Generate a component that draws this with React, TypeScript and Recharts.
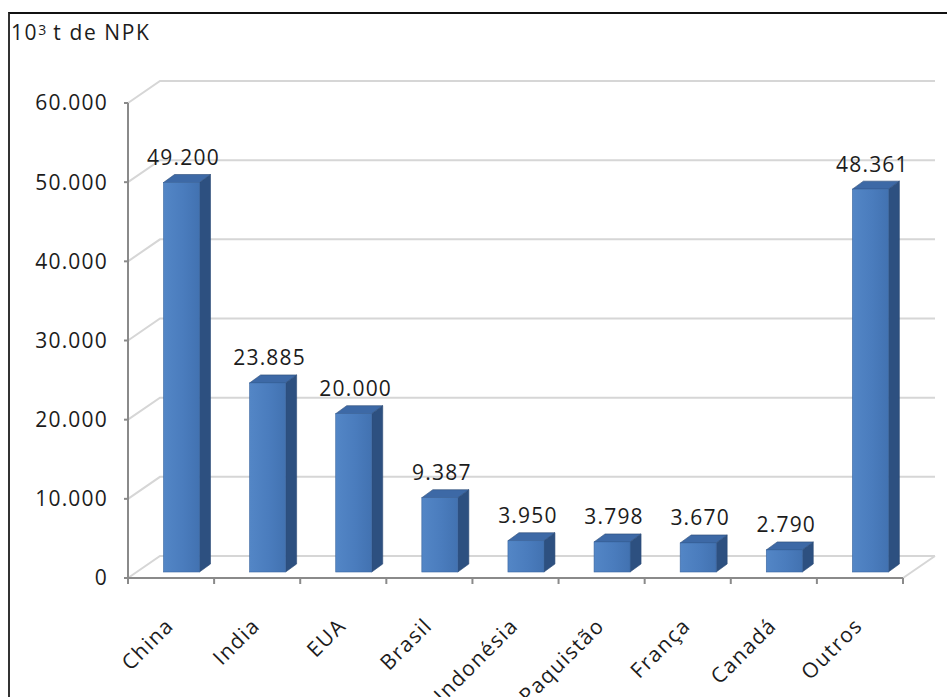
import React from 'react';
import { BarChart, Bar, XAxis, YAxis, CartesianGrid, LabelList } from 'recharts';

// Consumo de fertilizantes (10³ t de NPK) por país
const CATEGORIES = ['China', 'India', 'EUA', 'Brasil', 'Indonésia', 'Paquistão', 'França', 'Canadá', 'Outros'];
const VALUES = [49200, 23885, 20000, 9387, 3950, 3798, 3670, 2790, 48361];
const Y_TICKS = [0, 10000, 20000, 30000, 40000, 50000, 60000];
const UNIT_TITLE = ['10', '3', ' t de NPK'];

const data = CATEGORIES.map((name, i) => ({ name, value: VALUES[i] }));

// layout
const W = 947;
const H = 697;
const MARGIN = { top: 103, right: 44, bottom: 0, left: 0 };
const Y_AXIS_W = 128;
const X_AXIS_H = 119;
const PLOT_LEFT = MARGIN.left + Y_AXIS_W;
const PLOT_RIGHT = W - MARGIN.right;
const PLOT_BOTTOM = H - MARGIN.bottom - X_AXIS_H;
const BAND = (PLOT_RIGHT - PLOT_LEFT) / CATEGORIES.length;

// 3D depth of the walls/floor and of each bar
const WALL_DX = 32;
const WALL_DY = 22;
const BAR_SHIFT_X = 10.5;
const BAR_SHIFT_Y = 6;
const BAR_DX = 11;
const BAR_DY = 8;

const FONT = '"Open Sans", "Liberation Sans", sans-serif';
const TEXT_COLOR = '#1c1c1c';
const AXIS_COLOR = '#8a8a8a';
const GRID_COLOR = '#d6d6d6';

const fmt = (v: number) => String(Math.round(v)).replace(/\B(?=(\d{3})+(?!\d))/g, '.');

const Bar3D = (props: any) => {
  const { x, y, width, height } = props;
  if (width == null || height == null) return null;
  const fx = x + BAR_SHIFT_X;
  const fy = y - BAR_SHIFT_Y;
  const fb = fy + height;
  const top = `${fx},${fy} ${fx + width},${fy} ${fx + width + BAR_DX},${fy - BAR_DY} ${fx + BAR_DX},${fy - BAR_DY}`;
  const side = `${fx + width},${fy} ${fx + width + BAR_DX},${fy - BAR_DY} ${fx + width + BAR_DX},${fb - BAR_DY} ${fx + width},${fb}`;
  return (
    <g>
      <polygon points={side} fill="#2d5080" stroke="#2a4a75" strokeWidth={0.6} />
      <polygon points={top} fill="#3d69a6" stroke="#2a4a75" strokeWidth={0.6} />
      <rect x={fx} y={fy} width={width} height={height} fill="url(#frontFace)" stroke="#3a66a0" strokeWidth={0.6} />
    </g>
  );
};

const GridLine = (props: any) => {
  const { x1, y1, x2, y2 } = props;
  let d = `M${x1},${y1} L${x1 + WALL_DX},${y1 - WALL_DY} L${x2 + WALL_DX},${y2 - WALL_DY}`;
  if (Math.abs(y1 - PLOT_BOTTOM) < 1) {
    d += ` M${x2},${y2} L${x2 + WALL_DX},${y2 - WALL_DY}`;
  }
  return <path key={`grid-${props.index}`} d={d} stroke={GRID_COLOR} strokeWidth={2} fill="none" />;
};

const XTick = (props: any) => {
  const { x, payload, index } = props;
  const ax = x + 4;
  const ay = PLOT_BOTTOM + 49;
  const left = x - BAND / 2;
  const right = x + BAND / 2;
  return (
    <g>
      <line x1={left} y1={PLOT_BOTTOM} x2={left} y2={PLOT_BOTTOM + 6} stroke={AXIS_COLOR} strokeWidth={2} />
      {index === CATEGORIES.length - 1 && (
        <line x1={right} y1={PLOT_BOTTOM} x2={right} y2={PLOT_BOTTOM + 6} stroke={AXIS_COLOR} strokeWidth={2} />
      )}
      <text
        x={ax}
        y={ay}
        textAnchor="end"
        transform={`rotate(-45, ${ax}, ${ay})`}
        fontFamily={FONT}
        fontSize={21}
        letterSpacing={1.4}
        fill={TEXT_COLOR}
      >
        {payload.value}
      </text>
    </g>
  );
};

const ValueLabel = (props: any) => {
  const { x, y, width, value } = props;
  const cx = x + width / 2 + BAR_SHIFT_X + 2;
  const cy = y - BAR_SHIFT_Y - 17.5;
  return (
    <text x={cx} y={cy} textAnchor="middle" fontFamily={FONT} fontSize={21} letterSpacing={1.2} fill={TEXT_COLOR}>
      {fmt(value)}
    </text>
  );
};

export default function App() {
  return (
    <div style={{ position: 'fixed', left: 0, top: 0, width: W, height: H, overflow: 'hidden', background: '#fff' }}>
      <div
        style={{
          position: 'absolute',
          left: 8,
          top: 12,
          width: W,
          height: H,
          borderTop: '2px solid #111',
          borderLeft: '2px solid #333',
        }}
      />
      <div
        style={{
          position: 'absolute',
          left: 11,
          top: 19,
          fontFamily: FONT,
          fontSize: 21,
          letterSpacing: 1.6,
          color: TEXT_COLOR,
          lineHeight: '26px',
          whiteSpace: 'pre',
        }}
      >
        {UNIT_TITLE[0]}
        <span style={{ fontSize: 14, position: 'relative', top: -5, letterSpacing: 0 }}>{UNIT_TITLE[1]}</span>
        {UNIT_TITLE[2]}
      </div>
      <div style={{ position: 'absolute', left: 0, top: 0 }}>
        <BarChart width={W} height={H} data={data} margin={MARGIN} barSize={36}>
          <defs>
            <linearGradient id="frontFace" x1="0" y1="0" x2="1" y2="0">
              <stop offset="0%" stopColor="#5386c6" />
              <stop offset="55%" stopColor="#4a7cbd" />
              <stop offset="100%" stopColor="#4272b1" />
            </linearGradient>
          </defs>
          <CartesianGrid vertical={false} horizontal={GridLine} />
          <XAxis
            dataKey="name"
            height={X_AXIS_H}
            axisLine={{ stroke: AXIS_COLOR, strokeWidth: 2 }}
            tickLine={false}
            tick={XTick}
            interval={0}
          />
          <YAxis
            width={Y_AXIS_W}
            domain={[0, 60000]}
            ticks={Y_TICKS}
            tickFormatter={fmt}
            axisLine={{ stroke: AXIS_COLOR, strokeWidth: 2 }}
            tickLine={{ stroke: AXIS_COLOR, strokeWidth: 2 }}
            tickSize={4}
            tickMargin={16}
            tick={{ fontFamily: FONT, fontSize: 21, fill: TEXT_COLOR, letterSpacing: 1.2 }}
          />
          <Bar dataKey="value" shape={Bar3D} isAnimationActive={false}>
            <LabelList dataKey="value" content={ValueLabel} />
          </Bar>
        </BarChart>
      </div>
    </div>
  );
}
